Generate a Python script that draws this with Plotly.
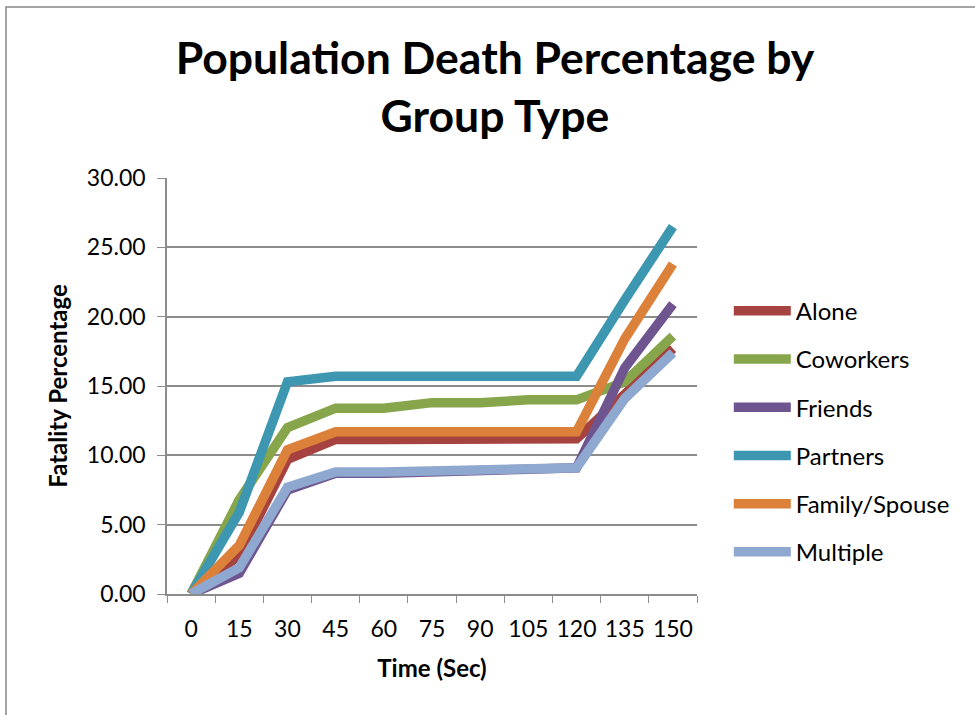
import plotly.graph_objects as go

times = ["0", "15", "30", "45", "60", "75", "90", "105", "120", "135", "150"]
alone = [0, 2.8, 9.7, 11.15, 11.15, 11.15, 11.15, 11.15, 11.2, 14.4, 17.7]
coworkers = [0, 6.8, 12.0, 13.4, 13.4, 13.8, 13.8, 14.0, 14.0, 15.3, 18.6]
friends = [0, 1.5, 7.5, 8.7, 8.7, 8.75, 8.9, 9.0, 9.1, 16.3, 20.9]
partners = [0, 5.9, 15.3, 15.7, 15.7, 15.7, 15.7, 15.7, 15.7, 21.2, 26.5]
family = [0, 3.5, 10.4, 11.7, 11.7, 11.7, 11.7, 11.7, 11.7, 18.4, 23.8]
multiple = [0, 1.9, 7.7, 8.8, 8.8, 8.9, 8.95, 9.05, 9.1, 14.1, 17.4]

series_names = ["Alone", "Coworkers", "Friends", "Partners", "Family/Spouse", "Multiple"]
series_values = [alone, coworkers, friends, partners, family, multiple]
colors = ["#A6423F", "#87A54A", "#6F558F", "#3D97B0", "#DC8139", "#8FA8CF"]

FONT = "Lato, Calibri, sans-serif"
fig = go.Figure()
for name, vals, col in zip(series_names, series_values, colors):
    fig.add_trace(go.Scatter(
        x=times, y=vals, name=name, mode="lines",
        line=dict(color=col, width=9.5), legendgroup=name,
    ))

grid = "#8C8C8C"
fig.update_layout(
    width=975, height=715,
    paper_bgcolor="white", plot_bgcolor="white",
    margin=dict(l=167, r=278, t=178, b=121),
    font=dict(family=FONT, color="black", size=23),
    title=dict(
        text="<b>Population Death Percentage by<br>Group Type</b>",
        x=495 / 975, xanchor="center", xref="container",
        y=1 - 74 / 715, yanchor="middle", yref="container",
        font=dict(size=44.5, family=FONT, color="black"),
    ),
    showlegend=True,
    legend=dict(
        x=1.06, xanchor="left", y=0.39, yanchor="middle",
        font=dict(size=24, family=FONT, color="black"),
        tracegroupgap=14, itemwidth=57, bgcolor="rgba(0,0,0,0)",
    ),
    xaxis=dict(
        type="category", range=[-0.5, 10.5], tickangle=0,
        tickson="boundaries", ticks="outside", ticklen=7, tickcolor=grid,
        showline=True, linecolor=grid, linewidth=1.5,
        showgrid=False, zeroline=False, ticklabelstandoff=14,
        title=dict(text="<b>Time (Sec)</b>", font=dict(size=24, family=FONT), standoff=19),
        tickfont=dict(size=23, family=FONT),
    ),
    yaxis=dict(
        range=[0, 30], dtick=5, tickformat=".2f",
        ticks="outside", ticklen=8, tickcolor=grid,
        showline=True, linecolor=grid, linewidth=1.5,
        showgrid=True, gridcolor=grid, gridwidth=1.5, zeroline=False,
        ticklabelstandoff=7,
        title=dict(text="<b>Fatality Percentage</b>", font=dict(size=24, family=FONT), standoff=12),
        tickfont=dict(size=23, family=FONT),
    ),
    shapes=[dict(
        type="rect", xref="paper", yref="paper",
        x0=(6 - 167) / 530, x1=(990 - 167) / 530,
        y0=(594 - 730) / 416, y1=(594 - 7) / 416,
        line=dict(color="#888888", width=1.5), fillcolor="rgba(0,0,0,0)", layer="below",
    )],
)

fig.write_html(
    "out.html",
    config={"displayModeBar": False},
    post_script="document.body.style.margin='0px';document.body.style.overflow='hidden';",
)
